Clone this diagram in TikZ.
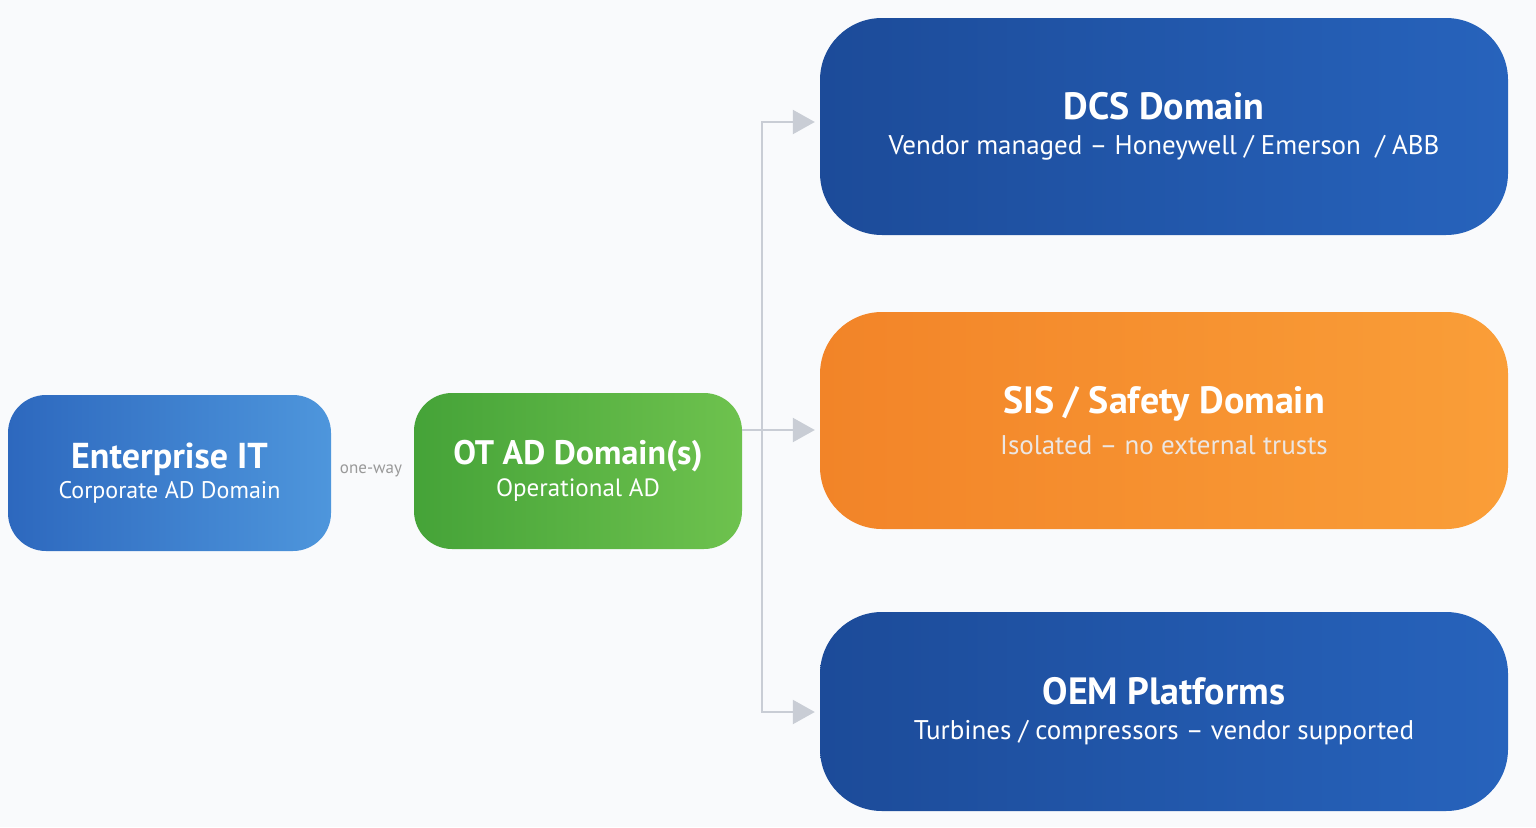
\documentclass[tikz,border=0pt]{standalone}
\usepackage{fontspec}
\setmainfont{PT Sans}
\usetikzlibrary{arrows.meta}
\definecolor{bgc}{HTML}{F9FAFC}
\definecolor{dblueA}{HTML}{1C4B99}
\definecolor{dblueB}{HTML}{2763BC}
\definecolor{lblueA}{HTML}{2D68BE}
\definecolor{lblueB}{HTML}{4E96DC}
\definecolor{greenA}{HTML}{45A338}
\definecolor{greenB}{HTML}{6EC24E}
\definecolor{orA}{HTML}{F28428}
\definecolor{orB}{HTML}{FA9E38}
\definecolor{conn}{HTML}{C9CDD5}
\definecolor{subw}{HTML}{EAF1FB}
\tikzset{
 box/.style={draw=none,inner sep=0pt,text=white,align=center},
 small/.style={box,minimum width=323pt,minimum height=156pt,rounded corners=38pt},
 big/.style={box,minimum width=688pt,rounded corners=62pt},
 arr/.style={draw=conn,line width=2.2pt,-{Triangle[length=22pt,width=24pt,fill=conn]}},
}
\begin{document}
\begin{tikzpicture}[x=1pt,y=-1pt]
\useasboundingbox (0,0) rectangle (1536,827);
\fill[bgc] (0,0) rectangle (1536,827);
\node[small,left color=lblueA,right color=lblueB] (ent) at (169.5,473)
 {\fontsize{36}{40}\selectfont\bfseries Enterprise IT\\[4pt]\fontsize{24}{28}\selectfont Corporate AD Domain};
\node[small,minimum width=328pt,left color=greenA,right color=greenB] (ot) at (578,471)
 {\fontsize{34}{38}\selectfont\bfseries OT AD Domain(s)\\[6pt]\fontsize{25}{28}\selectfont Operational AD};
\node[big,minimum height=217pt,left color=dblueA,right color=dblueB] (dcs) at (1164,126.5)
 {\fontsize{38}{42}\selectfont\bfseries DCS Domain\\[14pt]\fontsize{27}{30}\selectfont Vendor managed -- Honeywell / Emerson ~/ ABB};
\node[big,minimum height=217pt,left color=orA,right color=orB] (sis) at (1164,420.5)
 {\fontsize{38}{42}\selectfont\bfseries SIS / Safety Domain\\[14pt]\fontsize{27}{30}\selectfont\color{subw!90!orange} Isolated -- no external trusts};
\node[big,minimum height=199pt,left color=dblueA,right color=dblueB] (oem) at (1164,711.5)
 {\fontsize{38}{42}\selectfont\bfseries OEM Platforms\\[14pt]\fontsize{27}{30}\selectfont Turbines / compressors -- vendor supported};
\coordinate (j) at (762,430);
\draw[conn,line width=2.2pt] (ot.east |- j) -- (j);
\draw[arr] (j) |- ([xshift=-5pt]dcs.west |- 0,122);
\draw[arr] (j) -- ([xshift=-5pt]sis.west |- j);
\draw[arr] (j) |- ([xshift=-5pt]oem.west |- 0,712);
\node[text=gray!80,font=\fontsize{17}{20}\selectfont] (ow) at (371,471) {one-way};
\draw[draw=none,-{Triangle[length=9pt,width=11pt,fill=conn]}] (ow.east) -- (ot.west |- ow.east);
\end{tikzpicture}
\end{document}
